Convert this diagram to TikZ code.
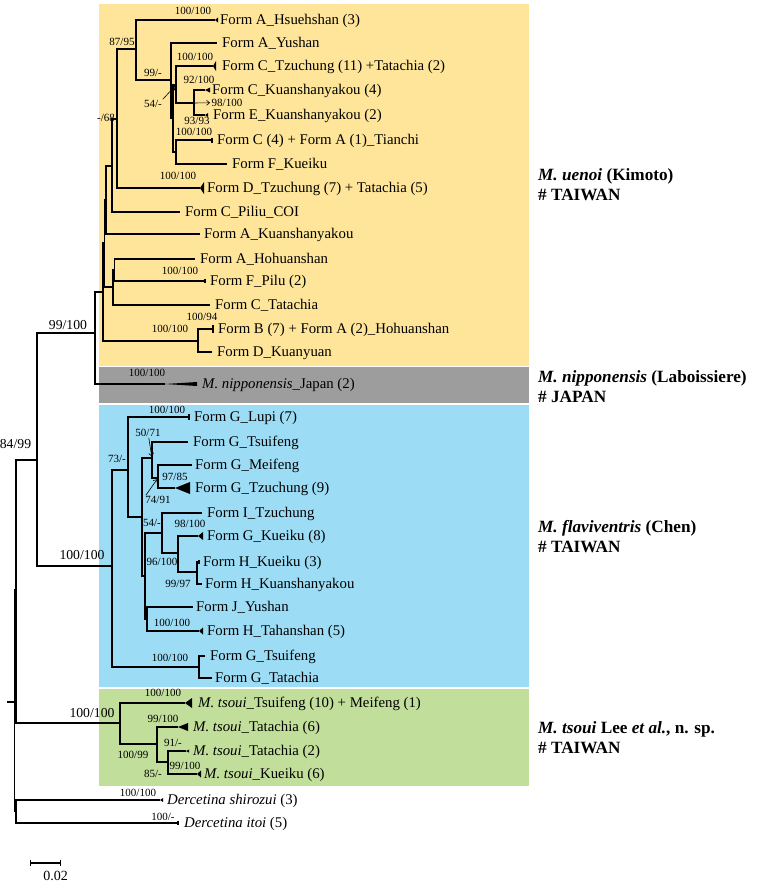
\documentclass[tikz,border=0pt]{standalone}
\usepackage{fontspec}
\setmainfont{Liberation Serif}
\usetikzlibrary{backgrounds, arrows.meta}
\definecolor{uenoiyellow}{HTML}{FEE59A}
\definecolor{nipgray}{HTML}{9D9D9D}
\definecolor{flavblue}{HTML}{9CDCF5}
\definecolor{tsouigreen}{HTML}{C2DE9B}
\newcommand{\leafsize}{\fontsize{14.8}{17}\selectfont}
\newcommand{\suppsize}{\fontsize{11}{13}\selectfont}
\newcommand{\bigsuppsize}{\fontsize{13.7}{16}\selectfont}
\newcommand{\cladesize}{\fontsize{17.2}{20}\selectfont\bfseries}
\tikzset{
  branch/.style = { draw=black, line width=1.4pt },
  leaf/.style = {
    anchor=west, inner sep=0pt, text height=9.8pt, text depth=0pt,
    font=\leafsize
  },
  supp/.style = {
    inner sep=0pt, text height=7.5pt, text depth=0pt, font=\suppsize
  },
  bigsupp/.style = {
    inner sep=0pt, text height=9.3pt, text depth=0pt, font=\bigsuppsize
  },
  species/.style = {
    anchor=west, align=left, inner sep=0pt, font=\cladesize
  },
  tri/.style = { fill=black },
  pointer/.style = {
    -{Straight Barb[length=3pt, width=5pt]}, line width=0.6pt,
    shorten <=1pt, shorten >=1.5pt
  },
  scalebar/.style = {
    {Bar[width=6pt]}-{Bar[width=6pt]}, line width=1.2pt
  }
}

\begin{document}
\begin{tikzpicture}[x=1pt, y=-1pt]

    \useasboundingbox (0,0) rectangle (756,887);

    % ------------------------------------------------------------ Clade boxes
    \begin{scope}[on background layer]
      \fill [uenoiyellow] (99,4)   rectangle (529,366);
      \fill [nipgray]     (99,367) rectangle (529,403);
      \fill [flavblue]    (99,405) rectangle (529,687);
      \fill [tsouigreen]  (99,689) rectangle (529,786);
    \end{scope}

    % ------------------------------------------------------- Internal nodes
    \coordinate (stub)   at (7,702);
    \coordinate (n_root) at (14.5,702);
    \coordinate (n_in)   at (16,590);
    \coordinate (n_out)  at (16,811);
    \coordinate (n_a)    at (37,460);
    \coordinate (n_b)    at (95,333);

    \coordinate (n_ue)   at (103,292);
    \coordinate (n_ue2)  at (104.5,243);
    \coordinate (n_ue3)  at (106,200);
    \coordinate (n_ue4)  at (112,166);
    \coordinate (n_ue5)  at (117,119);
    \coordinate (n_ue6)  at (136,49);
    \coordinate (n_ue7)  at (171,80);
    \coordinate (n_ue8)  at (173,118);
    \coordinate (n_ue9)  at (176,85);
    \coordinate (n_kuan) at (194,103);
    \coordinate (n_ue11) at (176,152);
    \coordinate (n_hoh)  at (113,287);
    \coordinate (n_hoh2) at (114.5,270);
    \coordinate (n_fb)   at (198,341);

    \coordinate (n_fl)   at (112,566);
    \coordinate (n_fl2)  at (128,470);
    \coordinate (n_fl3)  at (142,517);
    \coordinate (n_fl4)  at (152,458);
    \coordinate (n_fl5)  at (158,478);
    \coordinate (n_fl6)  at (145,576);
    \coordinate (n_fl7)  at (162,533);
    \coordinate (n_fl7b) at (178,553);
    \coordinate (n_fl7c) at (197,572);
    \coordinate (n_fl8)  at (147,619);
    \coordinate (n_fl9)  at (199,667);

    \coordinate (n_ts)   at (120,723);
    \coordinate (n_ts2)  at (157,744);
    \coordinate (n_ts3)  at (168,762);

    % ------------------------------------------------------------ Leaf tips
    \coordinate (t_hsueh)  at (215,20);
    \coordinate (t_ayu)    at (217,43);
    \coordinate (t_ctzu)   at (213,66);
    \coordinate (t_ckuan)  at (205,90);
    \coordinate (t_ekuan)  at (205,115);
    \coordinate (t_tian)   at (212,140);
    \coordinate (t_fkue)   at (227,164);
    \coordinate (t_dtzu)   at (200,188);
    \coordinate (t_piliu)  at (180,212);
    \coordinate (t_akuan)  at (200,234);
    \coordinate (t_ahoh)   at (195,259);
    \coordinate (t_fpilu)  at (205,281);
    \coordinate (t_ctat)   at (210,305);
    \coordinate (t_fb)     at (213,329);
    \coordinate (t_dkuan)  at (212,352);
    \coordinate (t_nip)    at (165,384);
    \coordinate (t_lupi)   at (189,417);
    \coordinate (t_gtsui1) at (188,442);
    \coordinate (t_meif)   at (192,465);
    \coordinate (t_tzu9)   at (175,488);
    \coordinate (t_itzu)   at (202,513);
    \coordinate (t_gkue)   at (198,536);
    \coordinate (t_hkue)   at (199,562);
    \coordinate (t_hkuan)  at (202,584);
    \coordinate (t_jyu)    at (193,607);
    \coordinate (t_htah)   at (199,631);
    \coordinate (t_gtsui2) at (205,656);
    \coordinate (t_gtata)  at (212,678);
    \coordinate (t_ts1)    at (185,703);
    \coordinate (t_ts2)    at (178,727);
    \coordinate (t_ts3)    at (186,751);
    \coordinate (t_ts4)    at (197,774);
    \coordinate (t_shir)   at (160,800);
    \coordinate (t_itoi)   at (178,823);
    \coordinate (sb_l)     at (30,863);
    \coordinate (sb_r)     at (61,863);

    % ----------------------------------------------------------- Leaf labels
    \node [leaf] (l_hsueh)  at (220,20)  {Form A\_Hsuehshan (3)};
    \node [leaf] (l_ayu)    at (222,43)  {Form A\_Yushan};
    \node [leaf] (l_ctzu)   at (222,66)  {Form C\_Tzuchung (11) +Tatachia (2)};
    \node [leaf] (l_ckuan)  at (212,90)  {Form C\_Kuanshanyakou (4)};
    \node [leaf] (l_ekuan)  at (213,115) {Form E\_Kuanshanyakou (2)};
    \node [leaf] (l_tian)   at (217,140) {Form C (4) + Form A (1)\_Tianchi};
    \node [leaf] (l_fkue)   at (232,164) {Form F\_Kueiku};
    \node [leaf] (l_dtzu)   at (207,188) {Form D\_Tzuchung (7) + Tatachia (5)};
    \node [leaf] (l_piliu)  at (185,212) {Form C\_Piliu\_COI};
    \node [leaf] (l_akuan)  at (204,234) {Form A\_Kuanshanyakou};
    \node [leaf] (l_ahoh)   at (200,259) {Form A\_Hohuanshan};
    \node [leaf] (l_fpilu)  at (210,281) {Form F\_Pilu (2)};
    \node [leaf] (l_ctat)   at (215,305) {Form C\_Tatachia};
    \node [leaf] (l_fb)     at (218,329) {Form B (7) + Form A (2)\_Hohuanshan};
    \node [leaf] (l_dkuan)  at (217,352) {Form D\_Kuanyuan};
    \node [leaf] (l_nip)    at (202,384) {\textit{M. nipponensis}\_Japan (2)};
    \node [leaf] (l_lupi)   at (194,417) {Form G\_Lupi (7)};
    \node [leaf] (l_gtsui1) at (193,442) {Form G\_Tsuifeng};
    \node [leaf] (l_meif)   at (195,465) {Form G\_Meifeng};
    \node [leaf] (l_tzu9)   at (195,488) {Form G\_Tzuchung (9)};
    \node [leaf] (l_itzu)   at (207,513) {Form I\_Tzuchung};
    \node [leaf] (l_gkue)   at (207,536) {Form G\_Kueiku (8)};
    \node [leaf] (l_hkue)   at (203,562) {Form H\_Kueiku (3)};
    \node [leaf] (l_hkuan)  at (205,584) {Form H\_Kuanshanyakou};
    \node [leaf] (l_jyu)    at (196,607) {Form J\_Yushan};
    \node [leaf] (l_htah)   at (207,631) {Form H\_Tahanshan (5)};
    \node [leaf] (l_gtsui2) at (210,656) {Form G\_Tsuifeng};
    \node [leaf] (l_gtata)  at (215,678) {Form G\_Tatachia};
    \node [leaf] (l_ts1)    at (198,703) {\textit{M. tsoui}\_Tsuifeng (10) + Meifeng (1)};
    \node [leaf] (l_ts2)    at (193,727) {\textit{M. tsoui}\_Tatachia (6)};
    \node [leaf] (l_ts3)    at (193,751) {\textit{M. tsoui}\_Tatachia (2)};
    \node [leaf] (l_ts4)    at (204,774) {\textit{M. tsoui}\_Kueiku (6)};
    \node [leaf] (l_shir)   at (167,800) {\textit{Dercetina shirozui} (3)};
    \node [leaf] (l_itoi)   at (184,823) {\textit{Dercetina itoi} (5)};

    % ------------------------------------------------------- Support values
    \node [supp] (s_hsueh) at (193,11)  {100/100};
    \node [supp] (s_ue8795) at (122,42) {87/95};
    \node [supp] (s_ctzu)  at (195,57)  {100/100};
    \node [supp] (s_ue99)  at (153,73)  {99/-};
    \node [supp] (s_ckuan) at (199,80)  {92/100};
    \node [supp] (s_ue54)  at (153,104) {54/-};
    \node [supp] (s_ue98)  at (227,102.5) {98/100};
    \node [supp] (s_ekuan) at (197,121) {93/93};
    \node [supp] (s_ue68)  at (106,118) {-/68};
    \node [supp] (s_tian)  at (194,132) {100/100};
    \node [supp] (s_dtzu)  at (178,176) {100/100};
    \node [supp] (s_fpilu) at (180,271) {100/100};
    \node [supp] (s_fb)    at (202,317) {100/94};
    \node [supp] (s_nfb)   at (170,329) {100/100};
    \node [supp] (s_nip)   at (147,373) {100/100};
    \node [supp] (s_lupi)  at (167,410) {100/100};
    \node [supp] (s_fl5071) at (148,433) {50/71};
    \node [supp] (s_fl73)  at (117,459) {73/-};
    \node [supp] (s_tzu9)  at (175,477) {97/85};
    \node [supp] (s_fl7491) at (158,500) {74/91};
    \node [supp] (s_fl54)  at (152,523) {54/-};
    \node [supp] (s_gkue)  at (190,524) {98/100};
    \node [supp] (s_fl96)  at (162,562) {96/100};
    \node [supp] (s_fl99)  at (178,584) {99/97};
    \node [supp] (s_htah)  at (172,623) {100/100};
    \node [supp] (s_fl9)   at (170,658) {100/100};
    \node [supp] (s_ts1)   at (163,693) {100/100};
    \node [supp] (s_ts2)   at (163,719) {99/100};
    \node [supp] (s_ts3)   at (173,743) {91/-};
    \node [supp] (s_nts2)  at (133,755) {100/99};
    \node [supp] (s_ts4)   at (185,766) {99/100};
    \node [supp] (s_nts3)  at (153,774) {85/-};
    \node [supp] (s_shir)  at (138,793) {100/100};
    \node [supp] (s_itoi)  at (163,817) {100/-};

    \node [bigsupp] (s_b)  at (68,325)  {99/100};
    \node [bigsupp] (s_a)  at (15.5,444) {84/99};
    \node [bigsupp] (s_fl) at (82,555)  {100/100};
    \node [bigsupp] (s_ts) at (92,713)  {100/100};

    % ---------------------------------------------------------- Clade names
    \node [species] (c_uenoi) at (538,185)
      {\textit{M. uenoi} (Kimoto)\\\# TAIWAN};
    \node [species] (c_nip)   at (538,387)
      {\textit{M. nipponensis} (Laboissiere)\\\# JAPAN};
    \node [species] (c_flav)  at (538,537)
      {\textit{M. flaviventris} (Chen)\\\# TAIWAN};
    \node [species] (c_tsoui) at (538,738)
      {\textit{M. tsoui} Lee \textit{et al.}, n. sp.\\\# TAIWAN};

    % ------------------------------------------------------------ Scale bar
    \draw [scalebar] (sb_l) -- (sb_r);
    \node [font=\fontsize{14}{16}\selectfont, inner sep=0pt] (sb_txt)
      at (55.5,876) {0.02};

    % ------------------------------------------------------------- Branches
    % -------- root and outgroups
    \draw [branch] (stub) -- (n_root);
    \draw [branch] (n_root) |- (n_in);
    \draw [branch] (n_root) |- (n_out);
    \draw [branch] (n_out) |- (t_shir);
    \draw [branch] (n_out) |- (t_itoi);
    \draw [branch] (n_in) |- (n_a);
    \draw [branch] (n_in) |- (n_ts);
    \draw [branch] (n_a) |- (n_b);
    \draw [branch] (n_a) |- (n_fl);
    \draw [branch] (n_b) |- (n_ue);
    \draw [branch] (n_b) |- (t_nip);

    % -------- uenoi
    \draw [branch] (n_ue) |- (n_ue2);
    \draw [branch] (n_ue) |- (n_fb);
    \draw [branch] (n_ue2) |- (n_ue3);
    \draw [branch] (n_ue2) |- (n_hoh);
    \draw [branch] (n_ue3) |- (n_ue4);
    \draw [branch] (n_ue3) |- (t_akuan);
    \draw [branch] (n_ue4) |- (n_ue5);
    \draw [branch] (n_ue4) |- (t_piliu);
    \draw [branch] (n_ue5) |- (n_ue6);
    \draw [branch] (n_ue5) |- (t_dtzu);
    \draw [branch] (n_ue6) |- (t_hsueh);
    \draw [branch] (n_ue6) |- (n_ue7);
    \draw [branch] (n_ue7) |- (t_ayu);
    \draw [branch] (n_ue7) |- (n_ue8);
    \draw [branch] (n_ue8) |- (n_ue9);
    \draw [branch] (n_ue8) |- (n_ue11);
    \draw [branch] (n_ue9) |- (t_ctzu);
    \draw [branch] (n_ue9) |- (n_kuan);
    \draw [branch] (n_kuan) |- (t_ckuan);
    \draw [branch] (n_kuan) |- (t_ekuan);
    \draw [branch] (n_ue11) |- (t_tian);
    \draw [branch] (n_ue11) |- (t_fkue);
    \draw [branch] (n_hoh) |- (n_hoh2);
    \draw [branch] (n_hoh) |- (t_ctat);
    \draw [branch] (n_hoh2) |- (t_ahoh);
    \draw [branch] (n_hoh2) |- (t_fpilu);
    \draw [branch] (n_fb) |- (t_fb);
    \draw [branch] (n_fb) |- (t_dkuan);

    % -------- flaviventris
    \draw [branch] (n_fl) |- (n_fl2);
    \draw [branch] (n_fl) |- (n_fl9);
    \draw [branch] (n_fl2) |- (t_lupi);
    \draw [branch] (n_fl2) |- (n_fl3);
    \draw [branch] (n_fl3) |- (n_fl4);
    \draw [branch] (n_fl3) |- (n_fl6);
    \draw [branch] (n_fl4) |- (t_gtsui1);
    \draw [branch] (n_fl4) |- (n_fl5);
    \draw [branch] (n_fl5) |- (t_meif);
    \draw [branch] (n_fl5) |- (t_tzu9);
    \draw [branch] (n_fl6) |- (n_fl7);
    \draw [branch] (n_fl6) |- (n_fl8);
    \draw [branch] (n_fl7) |- (t_itzu);
    \draw [branch] (n_fl7) |- (n_fl7b);
    \draw [branch] (n_fl7b) |- (t_gkue);
    \draw [branch] (n_fl7b) |- (n_fl7c);
    \draw [branch] (n_fl7c) |- (t_hkue);
    \draw [branch] (n_fl7c) |- (t_hkuan);
    \draw [branch] (n_fl8) |- (t_jyu);
    \draw [branch] (n_fl8) |- (t_htah);
    \draw [branch] (n_fl9) |- (t_gtsui2);
    \draw [branch] (n_fl9) |- (t_gtata);

    % -------- tsoui
    \draw [branch] (n_ts) |- (t_ts1);
    \draw [branch] (n_ts) |- (n_ts2);
    \draw [branch] (n_ts2) |- (t_ts2);
    \draw [branch] (n_ts2) |- (n_ts3);
    \draw [branch] (n_ts3) |- (t_ts3);
    \draw [branch] (n_ts3) |- (t_ts4);

    % ------------------------------------------------ Collapsed clade tips
    \fill [tri] (t_hsueh) -- ++(3,2.5)  -- ++(0,-5)  -- cycle;
    \fill [tri] (t_ctzu)  -- ++(3,5)    -- ++(0,-10) -- cycle;
    \fill [tri] (t_ckuan) -- ++(5,2.5)  -- ++(0,-5)  -- cycle;
    \fill [tri] (t_ekuan) -- ++(3,2)    -- ++(0,-4)  -- cycle;
    \fill [tri] (t_dtzu)  -- ++(4,6)    -- ++(0,-12) -- cycle;
    \fill [tri] (t_nip)   -- ++(32,2)   -- ++(0,-4)  -- cycle;
    \fill [tri] (t_tzu9)  -- ++(15,6)   -- ++(0,-12) -- cycle;
    \fill [tri] (t_gkue)  -- ++(5,4)    -- ++(0,-8)  -- cycle;
    \fill [tri] (t_htah)  -- ++(4,3.5)  -- ++(0,-7)  -- cycle;
    \fill [tri] (t_ts1)   -- ++(7,5)    -- ++(0,-10) -- cycle;
    \fill [tri] (t_ts2)   -- ++(10,4)   -- ++(0,-8)  -- cycle;
    \fill [tri] (t_ts3)   -- ++(3,1.5)  -- ++(0,-3)  -- cycle;
    \fill [tri] (t_ts4)   -- ++(4,3.5)  -- ++(0,-7)  -- cycle;
    \fill [tri] (t_shir)  -- ++(3,2)    -- ++(0,-4)  -- cycle;

    \draw [branch] (t_tian)  ++(0,-2.5) -- ++(0,5);
    \draw [branch] (t_fpilu) ++(0,-2)   -- ++(0,4);
    \draw [branch] (t_fb)    ++(0,-4)   -- ++(0,8);
    \draw [branch] (t_lupi)  ++(0,-3)   -- ++(0,6);
    \draw [branch] (t_hkue)  ++(0,-2)   -- ++(0,4);
    \draw [branch] (t_itoi)  ++(0,-2)   -- ++(0,4);

    % ------------------------------------------------------ Support pointers
    \draw [pointer] (s_ue54.north east) -- (n_ue9);
    \draw [pointer] (n_kuan) -- (s_ue98);
    \draw [pointer] (s_fl5071) -- (n_fl4);
    \draw [pointer] (s_fl7491.north west) -- (n_fl5);

  \end{tikzpicture}
\end{document}
